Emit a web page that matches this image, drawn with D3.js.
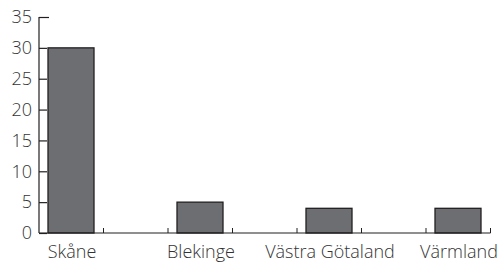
<!DOCTYPE html>
<html>
<head>
<meta charset="utf-8">
<script src="https://cdn.jsdelivr.net/npm/d3@7"></script>
<style>
  body { margin: 0; background: #fff; }
  text { font-family: "Gill Sans", "Open Sans", Lato, sans-serif; font-weight: 300; fill: #333; }
</style>
</head>
<body>
<div id="chart"></div>
<script>
// data
var regions = ["Skåne", "Blekinge", "Västra Götaland", "Värmland"];
var counts = [30, 5, 4, 4];
var yTicks = [0, 5, 10, 15, 20, 25, 30, 35];

var W = 501, H = 265;
var svg = d3.select("#chart").append("svg")
    .attr("width", W)
    .attr("height", H);

var axisX = 39;

var y = d3.scaleLinear()
    .domain([0, 35])
    .range([233, 17]);

// bars fill part of each category slot
var x = d3.scaleBand()
    .domain(regions)
    .range([48, 481])
    .paddingInner(1 - 46 / 129)
    .paddingOuter(0);

var half = x.step() / 2;
var slot0 = x(regions[0]) - 9;

// bars
svg.append("g")
  .selectAll("rect")
  .data(regions)
  .enter().append("rect")
    .attr("x", function(d) { return x(d); })
    .attr("y", function(d, i) { return y(counts[i]); })
    .attr("width", x.bandwidth())
    .attr("height", function(d, i) { return y(0) - y(counts[i]); })
    .style("fill", "#6d6e71")
    .style("stroke", "#231f20")
    .style("stroke-width", 1.3);

// y axis
var yAxis = svg.append("g")
    .attr("transform", "translate(" + axisX + ",0)")
    .call(d3.axisRight(y).tickValues(yTicks).tickSize(8).tickFormat(""));
yAxis.select(".domain").remove();
yAxis.selectAll(".tick line").style("stroke", "#231f20").style("stroke-width", 1.2);
yAxis.selectAll(".tick").filter(function(d) { return d === 35; })
    .select("line").attr("x2", 10);

svg.append("line")
    .attr("x1", axisX).attr("x2", axisX)
    .attr("y1", y(35)).attr("y2", y(0))
    .style("stroke", "#231f20").style("stroke-width", 1.2);

svg.append("g").selectAll("text")
  .data(yTicks)
  .enter().append("text")
    .attr("x", 32)
    .attr("y", function(d) { return y(d); })
    .attr("dy", "0.35em")
    .attr("text-anchor", "end")
    .style("font-size", "18px")
    .text(function(d) { return d; });

// x axis
var xEnd = slot0 + 7 * half;
svg.append("line")
    .attr("x1", axisX).attr("x2", xEnd)
    .attr("y1", y(0)).attr("y2", y(0))
    .style("stroke", "#231f20").style("stroke-width", 1.2);

svg.append("g").selectAll("line")
  .data(d3.range(1, 8))
  .enter().append("line")
    .attr("x1", function(i) { return slot0 + i * half; })
    .attr("x2", function(i) { return slot0 + i * half; })
    .attr("y1", y(0))
    .attr("y2", y(0) - 5)
    .style("stroke", "#231f20").style("stroke-width", 1);

svg.append("g").selectAll("text")
  .data(regions)
  .enter().append("text")
    .attr("x", function(d) { return x(d) + x.bandwidth() / 2 + 1; })
    .attr("y", 252)
    .attr("dy", "0.35em")
    .attr("text-anchor", "middle")
    .style("font-size", "18px")
    .text(function(d) { return d; });
</script>
</body>
</html>
